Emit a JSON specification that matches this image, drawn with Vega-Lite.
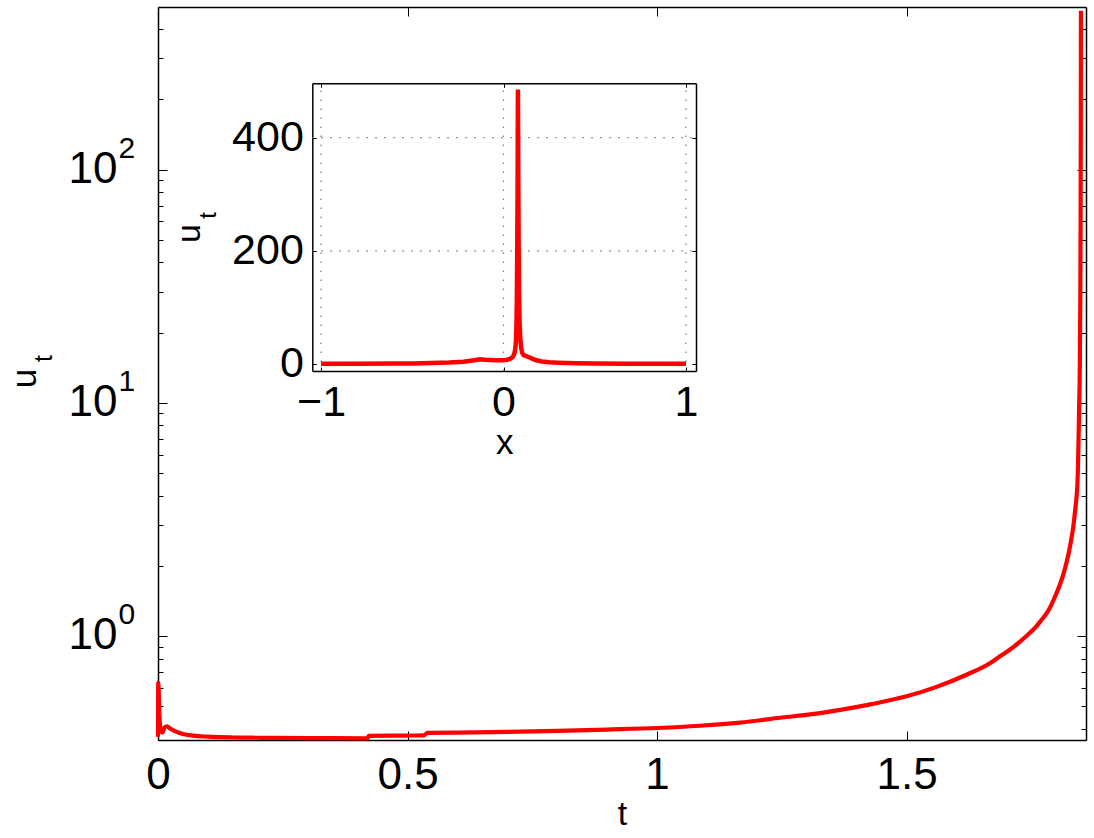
{
  "$schema": "https://vega.github.io/schema/vega-lite/v6.json",
  "width": 928,
  "height": 733,
  "autosize": {"type": "none"},
  "padding": {"left": 158, "top": 7, "right": 8, "bottom": 98},
  "background": "white",
  "config": {
    "view": {"stroke": null},
    "font": "Liberation Sans",
    "axis": {"labelColor": "black", "titleColor": "black", "domainColor": "black", "tickColor": "black", "grid": false, "labelFont": "Liberation Sans", "titleFont": "Liberation Sans", "titleFontWeight": "normal", "labelFlush": false, "labelOverlap": false}
  },
  "datasets": {
    "main": [
      {"t": 0, "u": 0.37}, {"t": 0.0005, "u": 0.63}, {"t": 0.003, "u": 0.45}, {"t": 0.006, "u": 0.39},
      {"t": 0.009, "u": 0.385}, {"t": 0.013, "u": 0.405}, {"t": 0.018, "u": 0.41}, {"t": 0.025, "u": 0.4},
      {"t": 0.035, "u": 0.39}, {"t": 0.05, "u": 0.38}, {"t": 0.07, "u": 0.374}, {"t": 0.1, "u": 0.37},
      {"t": 0.15, "u": 0.367}, {"t": 0.2, "u": 0.366}, {"t": 0.3, "u": 0.365}, {"t": 0.42, "u": 0.364},
      {"t": 0.422, "u": 0.373}, {"t": 0.5, "u": 0.374}, {"t": 0.533, "u": 0.375}, {"t": 0.54, "u": 0.384},
      {"t": 0.6, "u": 0.385}, {"t": 0.7, "u": 0.388}, {"t": 0.8, "u": 0.392}, {"t": 0.9, "u": 0.397},
      {"t": 1.0, "u": 0.403}, {"t": 1.086, "u": 0.412}, {"t": 1.166, "u": 0.425}, {"t": 1.25, "u": 0.447},
      {"t": 1.31, "u": 0.462}, {"t": 1.367, "u": 0.482}, {"t": 1.43, "u": 0.51}, {"t": 1.5, "u": 0.551},
      {"t": 1.56, "u": 0.605}, {"t": 1.62, "u": 0.682}, {"t": 1.667, "u": 0.764}, {"t": 1.687, "u": 0.818},
      {"t": 1.715, "u": 0.9}, {"t": 1.74, "u": 1.0}, {"t": 1.76, "u": 1.1}, {"t": 1.77, "u": 1.17},
      {"t": 1.781, "u": 1.255}, {"t": 1.79, "u": 1.36}, {"t": 1.8, "u": 1.52}, {"t": 1.808, "u": 1.68},
      {"t": 1.815, "u": 1.87}, {"t": 1.82, "u": 2.05}, {"t": 1.825, "u": 2.28}, {"t": 1.83, "u": 2.6},
      {"t": 1.834, "u": 2.95}, {"t": 1.837, "u": 3.35}, {"t": 1.84, "u": 3.85}, {"t": 1.842, "u": 4.4},
      {"t": 1.8435, "u": 5.5}, {"t": 1.8445, "u": 7.0}, {"t": 1.8455, "u": 9.2}, {"t": 1.847, "u": 14.3},
      {"t": 1.848, "u": 27.6}, {"t": 1.8486, "u": 60}, {"t": 1.849, "u": 150}, {"t": 1.8492, "u": 480}
    ],
    "inset": [
      {"x": -1, "u": 0.3}, {"x": -0.8, "u": 0.4}, {"x": -0.6, "u": 0.7}, {"x": -0.5, "u": 1.0},
      {"x": -0.4, "u": 1.6}, {"x": -0.3, "u": 2.5}, {"x": -0.22, "u": 4}, {"x": -0.16, "u": 6.5},
      {"x": -0.13, "u": 8.3}, {"x": -0.1, "u": 7.5}, {"x": -0.05, "u": 6.8}, {"x": 0, "u": 6.8},
      {"x": 0.02, "u": 7.5}, {"x": 0.035, "u": 9}, {"x": 0.05, "u": 12}, {"x": 0.058, "u": 17},
      {"x": 0.064, "u": 25}, {"x": 0.068, "u": 40}, {"x": 0.071, "u": 70}, {"x": 0.073, "u": 110},
      {"x": 0.075, "u": 190}, {"x": 0.077, "u": 300}, {"x": 0.078, "u": 400}, {"x": 0.079, "u": 485},
      {"x": 0.08, "u": 420}, {"x": 0.081, "u": 330}, {"x": 0.083, "u": 210}, {"x": 0.085, "u": 130},
      {"x": 0.088, "u": 75}, {"x": 0.092, "u": 45}, {"x": 0.097, "u": 28}, {"x": 0.103, "u": 19},
      {"x": 0.11, "u": 15.5}, {"x": 0.125, "u": 14}, {"x": 0.14, "u": 12}, {"x": 0.16, "u": 9},
      {"x": 0.18, "u": 6.5}, {"x": 0.21, "u": 4.5}, {"x": 0.25, "u": 3}, {"x": 0.3, "u": 2.2},
      {"x": 0.4, "u": 1.3}, {"x": 0.5, "u": 0.9}, {"x": 0.7, "u": 0.5}, {"x": 1, "u": 0.3}
    ],
    "vgrid": [
      {"gx": -1, "y1": -12.4, "y2": 496}, {"gx": 0, "y1": -12.4, "y2": 496}, {"gx": 1, "y1": -12.4, "y2": 496}
    ],
    "hgrid": [
      {"gy": 200, "x1": -1.048, "x2": 1.055}, {"gy": 400, "x1": -1.048, "x2": 1.055}
    ]
  },
  "layer": [
    {
      "data": {"name": "main"},
      "layer": [
        {
          "mark": {"type": "line", "color": "#ff0000", "strokeWidth": 4.2, "interpolate": "monotone"},
          "encoding": {
            "x": {"field": "t", "type": "quantitative", "scale": {"domain": [0, 1.8594], "nice": false, "zero": false},
              "axis": {"orient": "bottom", "values": [0, 0.5, 1, 1.5], "format": "~g", "ticks": false, "tickSize": 0, "domain": true, "domainWidth": 1.5, "labelFontSize": 44, "labelPadding": 13, "title": "t", "titleFontSize": 34, "titlePadding": 0}},
            "y": {"field": "u", "type": "quantitative", "scale": {"type": "log", "domain": [0.358, 498], "nice": false},
              "axis": {"orient": "left", "values": [1, 10, 100], "labelExpr": "'10'", "ticks": false, "tickSize": 0, "domain": true, "domainWidth": 1.5, "labelFontSize": 44, "labelPadding": 41, "labelBaseline": "middle", "title": "u", "titleFontSize": 35, "titleX": -134, "titleY": 371, "titleAngle": -90, "titleAlign": "center", "titleBaseline": "middle"}}
          }
        },
        {
          "mark": {"type": "line", "opacity": 0},
          "encoding": {
            "x": {"field": "t", "type": "quantitative", "scale": {"domain": [0, 1.8594], "nice": false, "zero": false},
              "axis": {"orient": "top", "offset": -733, "values": [0, 0.5, 1, 1.5], "labels": false, "domain": false, "ticks": true, "tickSize": 9, "title": null}},
            "y": {"field": "u", "type": "quantitative", "scale": {"type": "log", "domain": [0.358, 498], "nice": false},
              "axis": {"orient": "left", "values": [1, 10, 100], "labelExpr": "datum.value == 1 ? '0' : datum.value == 10 ? '1' : '2'", "ticks": false, "tickSize": 0, "domain": false, "labelFontSize": 30, "labelAlign": "left", "labelBaseline": "middle", "labelPadding": 40, "labelOffset": -21, "title": "t", "titleFontSize": 25, "titleX": -115, "titleY": 351, "titleAngle": -90, "titleAlign": "center", "titleBaseline": "middle"}}
          }
        },
        {
          "mark": {"type": "line", "opacity": 0},
          "encoding": {
            "x": {"field": "t", "type": "quantitative", "scale": {"domain": [0, 1.8594], "nice": false, "zero": false},
              "axis": {"orient": "bottom", "offset": -733, "values": [0, 0.5, 1, 1.5], "labels": false, "domain": true, "domainWidth": 1.5, "ticks": true, "tickSize": 9, "title": null}},
            "y": {"field": "u", "type": "quantitative", "scale": {"type": "log", "domain": [0.358, 498], "nice": false},
              "axis": {"orient": "right", "offset": -928, "values": [1, 10, 100], "labels": false, "domain": false, "ticks": true, "tickSize": 9, "title": null}}
          }
        },
        {
          "mark": {"type": "line", "opacity": 0},
          "encoding": {
            "x": {"field": "t", "type": "quantitative", "scale": {"domain": [0, 1.8594], "nice": false, "zero": false}, "axis": null},
            "y": {"field": "u", "type": "quantitative", "scale": {"type": "log", "domain": [0.358, 498], "nice": false},
              "axis": {"orient": "right", "offset": -928, "values": [0.4, 0.5, 0.6, 0.7, 0.8, 0.9, 2, 3, 4, 5, 6, 7, 8, 9, 20, 30, 40, 50, 60, 70, 80, 90, 200, 300, 400], "labels": false, "domain": false, "ticks": true, "tickSize": 5, "title": null}}
          }
        },
        {
          "mark": {"type": "line", "opacity": 0},
          "encoding": {
            "x": {"field": "t", "type": "quantitative", "scale": {"domain": [0, 1.8594], "nice": false, "zero": false}, "axis": null},
            "y": {"field": "u", "type": "quantitative", "scale": {"type": "log", "domain": [0.358, 498], "nice": false},
              "axis": {"orient": "left", "offset": -928, "values": [1, 10, 100], "labels": false, "domain": true, "domainWidth": 1.5, "ticks": true, "tickSize": 9, "title": null}}
          }
        },
        {
          "mark": {"type": "line", "opacity": 0},
          "encoding": {
            "x": {"field": "t", "type": "quantitative", "scale": {"domain": [0, 1.8594], "nice": false, "zero": false}, "axis": null},
            "y": {"field": "u", "type": "quantitative", "scale": {"type": "log", "domain": [0.358, 498], "nice": false},
              "axis": {"orient": "left", "offset": -928, "values": [0.4, 0.5, 0.6, 0.7, 0.8, 0.9, 2, 3, 4, 5, 6, 7, 8, 9, 20, 30, 40, 50, 60, 70, 80, 90, 200, 300, 400], "labels": false, "domain": false, "ticks": true, "tickSize": 5, "title": null}}
          }
        }
      ],
      "resolve": {"axis": {"x": "independent", "y": "independent"}}
    },
    {
      "layer": [
        {
          "data": {"name": "vgrid"},
          "mark": {"type": "rule", "color": "#777777", "strokeWidth": 1.2, "strokeDash": [1.5, 7.5]},
          "encoding": {
            "x": {"field": "gx", "type": "quantitative", "scale": {"domain": [-1.048, 1.055], "range": [154.3, 538], "nice": false, "zero": false}, "axis": null},
            "y": {"field": "y1", "type": "quantitative", "scale": {"domain": [-12.4, 496], "range": [364, 76.3], "nice": false, "zero": false}, "axis": null},
            "y2": {"field": "y2"}
          }
        },
        {
          "data": {"name": "hgrid"},
          "mark": {"type": "rule", "color": "#777777", "strokeWidth": 1.2, "strokeDash": [1.5, 7.5]},
          "encoding": {
            "y": {"field": "gy", "type": "quantitative", "scale": {"domain": [-12.4, 496], "range": [364, 76.3], "nice": false, "zero": false}, "axis": null},
            "x": {"field": "x1", "type": "quantitative", "scale": {"domain": [-1.048, 1.055], "range": [154.3, 538], "nice": false, "zero": false}, "axis": null},
            "x2": {"field": "x2"}
          }
        },
        {
          "data": {"name": "inset"},
          "mark": {"type": "line", "color": "#ff0000", "strokeWidth": 4.5},
          "encoding": {
            "x": {"field": "x", "type": "quantitative", "scale": {"domain": [-1.048, 1.055], "range": [154.3, 538], "nice": false, "zero": false},
              "axis": {"orient": "bottom", "offset": -369, "values": [-1, 0, 1], "format": "~g", "ticks": false, "tickSize": 0, "domain": true, "domainWidth": 1.5, "labelFontSize": 43, "labelPadding": 10, "title": "x", "titleFontSize": 35, "titlePadding": 1}},
            "y": {"field": "u", "type": "quantitative", "scale": {"domain": [-12.4, 496], "range": [364, 76.3], "nice": false, "zero": false},
              "axis": {"orient": "left", "offset": -154.3, "values": [0, 200, 400], "ticks": false, "tickSize": 0, "domain": true, "domainWidth": 1.5, "labelFontSize": 43, "labelPadding": 9, "labelBaseline": "middle", "title": "u", "titleFontSize": 34, "titleX": -123, "titleY": 226, "titleAngle": -90, "titleAlign": "center", "titleBaseline": "middle"}}
          }
        },
        {
          "data": {"name": "inset"},
          "mark": {"type": "line", "opacity": 0},
          "encoding": {
            "x": {"field": "x", "type": "quantitative", "scale": {"domain": [-1.048, 1.055], "range": [154.3, 538], "nice": false, "zero": false},
              "axis": {"orient": "bottom", "offset": -656.7, "values": [-1, 0, 1], "labels": false, "domain": true, "domainWidth": 1.5, "ticks": true, "tickSize": 4, "title": null}},
            "y": {"field": "u", "type": "quantitative", "scale": {"domain": [-12.4, 496], "range": [364, 76.3], "nice": false, "zero": false},
              "axis": {"orient": "right", "offset": -773.7, "values": [0, 200, 400], "labels": false, "domain": false, "ticks": true, "tickSize": 4, "title": "t", "titleFontSize": 24, "titleX": -104, "titleY": 208, "titleAngle": -90, "titleAlign": "center", "titleBaseline": "middle"}}
          }
        },
        {
          "data": {"name": "inset"},
          "mark": {"type": "line", "opacity": 0},
          "encoding": {
            "x": {"field": "x", "type": "quantitative", "scale": {"domain": [-1.048, 1.055], "range": [154.3, 538], "nice": false, "zero": false},
              "axis": {"orient": "top", "offset": -364, "values": [-1, 0, 1], "labels": false, "domain": false, "ticks": true, "tickSize": 4, "title": null}},
            "y": {"field": "u", "type": "quantitative", "scale": {"domain": [-12.4, 496], "range": [364, 76.3], "nice": false, "zero": false},
              "axis": {"orient": "left", "offset": -538, "values": [0, 200, 400], "labels": false, "domain": true, "domainWidth": 1.5, "ticks": true, "tickSize": 4, "title": null}}
          }
        }
      ],
      "resolve": {"axis": {"x": "independent", "y": "independent"}}
    }
  ],
  "resolve": {"scale": {"x": "independent", "y": "independent"}, "axis": {"x": "independent", "y": "independent"}}
}
